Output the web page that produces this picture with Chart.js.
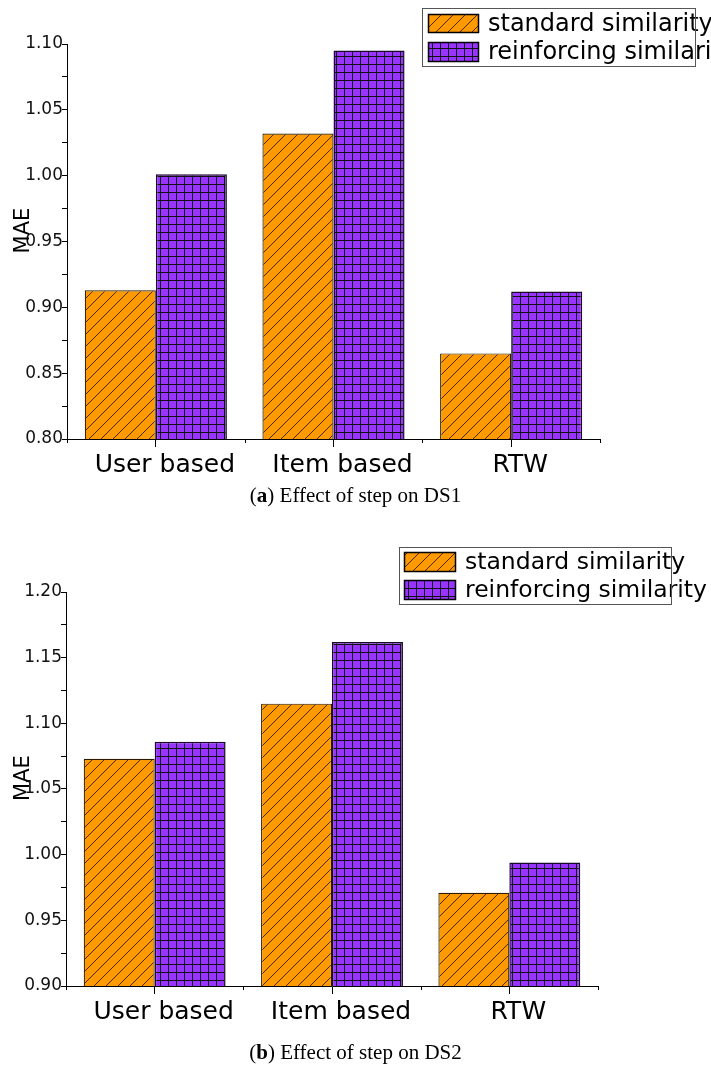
<!DOCTYPE html>
<html>
<head>
<meta charset="utf-8">
<script src="https://cdn.jsdelivr.net/npm/chart.js@4.4.1/dist/chart.umd.min.js"></script>
<style>
  html, body { margin: 0; padding: 0; background: #fff; }
  body { width: 711px; height: 1065px; position: relative; overflow: hidden; }
  canvas { position: absolute; left: 0; }
  .cap {
    position: absolute; left: 0; width: 711px; text-align: center;
    font-family: "Liberation Serif", "Times New Roman", serif;
    font-size: 21px; line-height: 24px; color: #000;
  }
</style>
</head>
<body>
<canvas id="c1" width="711" height="520" style="top:0"></canvas>
<canvas id="c2" width="711" height="520" style="top:540px"></canvas>
<div class="cap" style="top:483px">(<b>a</b>) Effect of step on DS1</div>
<div class="cap" style="top:1040px">(<b>b</b>) Effect of step on DS2</div>
<script>
// Methods compared and the two similarity variants
const categories = ['User based', 'Item based', 'RTW'];
const seriesNames = ['standard similarity', 'reinforcing similarity'];

// MAE on DS1
const ds1Standard = [0.913, 1.032, 0.865];
const ds1Reinforcing = [1.001, 1.095, 0.912];

// MAE on DS2
const ds2Standard = [1.073, 1.115, 0.971];
const ds2Reinforcing = [1.086, 1.162, 0.994];

// Y axis ranges
const ds1Range = [0.80, 1.10];
const ds2Range = [0.90, 1.20];
const yStep = 0.025;       // minor tick every 0.025, labelled every 0.05
const yTitle = 'MAE';

const FONT = '"DejaVu Sans", "Liberation Sans", sans-serif';

// Orange fill with thin diagonal hatching
function hatchPattern() {
  const c = document.createElement('canvas');
  c.width = c.height = 12;
  const g = c.getContext('2d');
  g.fillStyle = '#FF9900';
  g.fillRect(0, 0, 12, 12);
  g.strokeStyle = 'rgba(30,15,0,0.9)';
  g.lineWidth = 0.9;
  g.beginPath();
  g.moveTo(0, 12); g.lineTo(12, 0);
  g.moveTo(-1, 1); g.lineTo(1, -1);
  g.moveTo(11, 13); g.lineTo(13, 11);
  g.stroke();
  return g.createPattern(c, 'repeat');
}

// Purple fill with a fine black grid
function gridPattern() {
  const c = document.createElement('canvas');
  c.width = c.height = 8;
  const g = c.getContext('2d');
  g.fillStyle = '#9933FF';
  g.fillRect(0, 0, 8, 8);
  g.fillStyle = '#111';
  g.fillRect(0, 0, 8, 1);
  g.fillRect(0, 0, 1, 8);
  return g.createPattern(c, 'repeat');
}

// Legend box with patterned swatches; the frame is stroked last, over the text
const patternLegend = {
  id: 'patternLegend',
  afterDraw(chart, args, opts) {
    const ctx = chart.ctx;
    ctx.save();
    const [bx, by, bw, bh] = opts.box;
    ctx.fillStyle = '#fff';
    ctx.fillRect(bx, by, bw, bh);
    chart.data.datasets.forEach((ds, i) => {
      const [sx, sy, sw, sh] = opts.swatches[i];
      ctx.fillStyle = ds.backgroundColor;
      ctx.fillRect(sx, sy, sw, sh);
      ctx.strokeStyle = '#000';
      ctx.lineWidth = 1.5;
      ctx.strokeRect(sx + 0.5, sy + 0.5, sw - 1, sh - 1);
      ctx.fillStyle = '#000';
      ctx.font = opts.font;
      ctx.textAlign = 'left';
      ctx.textBaseline = 'middle';
      ctx.fillText(ds.label, opts.textX, sy + sh / 2 + 1);
    });
    ctx.strokeStyle = '#555';
    ctx.lineWidth = 1;
    ctx.strokeRect(bx + 0.5, by + 0.5, bw, bh);
    ctx.restore();
  }
};

// Short ticks on the x axis at the borders between categories
const groupTicks = {
  id: 'groupTicks',
  afterDraw(chart) {
    const x = chart.scales.x;
    const ctx = chart.ctx;
    const n = chart.data.labels.length;
    const step = (x.right - x.left) / n;
    ctx.save();
    ctx.strokeStyle = '#000';
    ctx.lineWidth = 1;
    ctx.beginPath();
    for (let i = 0; i <= n; i++) {
      const px = Math.round(x.left + i * step) + 0.5;
      ctx.moveTo(px, x.top);
      ctx.lineTo(px, x.top + 4);
    }
    ctx.stroke();
    ctx.restore();
  }
};

// Rotated y-axis title, sitting a little above the axis midpoint
const axisTitle = {
  id: 'axisTitle',
  afterDraw(chart, args, opts) {
    const y = chart.scales.y;
    const ctx = chart.ctx;
    ctx.save();
    ctx.translate(opts.x, (y.top + y.bottom) / 2 + opts.shift);
    ctx.rotate(-Math.PI / 2);
    ctx.font = opts.font;
    ctx.fillStyle = '#000';
    ctx.textAlign = 'center';
    ctx.textBaseline = 'middle';
    ctx.fillText(opts.text, 0, 0);
    ctx.restore();
  }
};

function makeChart(id, standard, reinforcing, range, geom) {
  const canvas = document.getElementById(id);
  const H = canvas.height;
  return new Chart(canvas, {
    type: 'bar',
    data: {
      labels: categories,
      datasets: [
        { label: seriesNames[0], data: standard, backgroundColor: hatchPattern(),
          borderColor: '#2a1a00', borderWidth: 1.2 },
        { label: seriesNames[1], data: reinforcing, backgroundColor: gridPattern(),
          borderColor: '#1a0a2a', borderWidth: 1.5 }
      ]
    },
    options: {
      responsive: false,
      animation: false,
      devicePixelRatio: 1,
      categoryPercentage: 0.8,
      barPercentage: 1.0,
      layout: { padding: { top: geom.top, right: 711 - geom.right, left: 0, bottom: 0 } },
      scales: {
        x: {
          offset: true,
          grid: { offset: false, drawOnChartArea: false, drawTicks: true, tickLength: 8,
                  color: '#000', lineWidth: 1 },
          border: { display: true, color: '#000', width: 1 },
          ticks: { font: { family: FONT, size: 25 }, color: '#000', padding: 3,
                   labelOffset: 9, maxRotation: 0, autoSkip: false },
          afterFit: s => { s.height = H - geom.bottom; }
        },
        y: {
          min: range[0],
          max: range[1],
          ticks: {
            stepSize: yStep,
            font: { family: FONT, size: 17 },
            color: '#111',
            padding: -1,
            autoSkip: false,
            callback: v => (Math.round(v * 1000) % 50 === 0 ? v.toFixed(2) : '')
          },
          grid: { drawOnChartArea: false, drawTicks: true, tickLength: 5, color: '#000', lineWidth: 1 },
          border: { display: true, color: '#000', width: 1 },
          title: { display: false },
          afterFit: s => { s.width = geom.left; }
        }
      },
      plugins: {
        legend: { display: false },
        tooltip: { enabled: false },
        patternLegend: geom.legend,
        axisTitle: { text: yTitle, x: 24, shift: -11, font: '21px ' + FONT }
      }
    },
    plugins: [patternLegend, groupTicks, axisTitle]
  });
}

makeChart('c1', ds1Standard, ds1Reinforcing, ds1Range, {
  left: 67, top: 44, right: 600, bottom: 439,
  legend: { box: [422, 8, 273, 58], swatches: [[428, 14, 51, 19], [428, 42, 51, 20]],
            textX: 488, font: '24px ' + FONT }
});

makeChart('c2', ds2Standard, ds2Reinforcing, ds2Range, {
  left: 66, top: 52, right: 598, bottom: 446,
  legend: { box: [399, 7, 272, 57], swatches: [[404, 12, 52, 20], [404, 40, 52, 20]],
            textX: 465, font: '23.5px ' + FONT }
});
</script>
</body>
</html>
